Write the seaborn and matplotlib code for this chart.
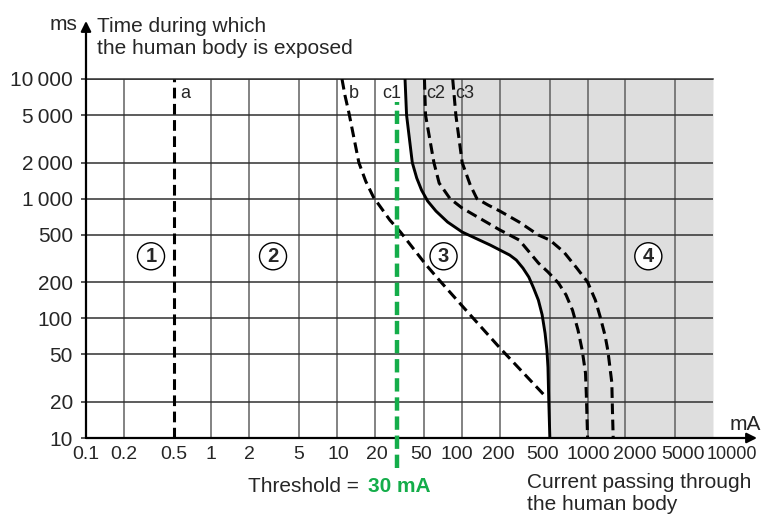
import numpy as np
import pandas as pd
import matplotlib
matplotlib.use("Agg")
import matplotlib.pyplot as plt
import matplotlib.transforms as mtransforms
import seaborn as sns

# axis ticks (mA, ms)
x_ticks = [0.1, 0.2, 0.5, 1, 2, 5, 10, 20, 50, 100, 200, 500, 1000, 2000, 5000, 10000]
x_tick_labels = ["0.1", "0.2", "0.5", "1", "2", "5", "10", "20", "50", "100", "200",
                 "500", "1000", "2000", "5000", "10000"]
y_ticks = [10, 20, 50, 100, 200, 500, 1000, 2000, 5000, 10000]
y_tick_labels = ["10", "20", "50", "100", "200", "500", "1\u2009000", "2\u2009000",
                 "5\u2009000", "10\u2009000"]
x_grid = [0.2, 1, 2, 5, 10, 20, 50, 100, 200, 500, 1000, 2000, 5000]
y_grid = [20, 50, 100, 200, 500, 1000, 2000, 5000, 10000]

# curves (current mA, time ms)
a_x = [0.5, 0.5]
a_y = [10, 10000]
b_x = [11, 11.6, 12.5, 15, 17, 19.6, 26.5, 32.2, 50.9, 65.5, 102, 200, 466]
b_y = [10000, 7350, 5200, 2000, 1400, 1030, 662, 526, 284, 209, 124, 56.5, 22]
c1_x = [35, 36, 40, 43.4, 47.4, 53, 61.8, 76.4, 100, 167, 200, 239, 270, 305, 340,
        371, 405, 434, 458, 474, 483, 490, 500]
c1_y = [10000, 5000, 2000, 1486, 1180, 955, 787, 638, 526, 410, 372, 338, 307, 263,
        221, 179, 142, 107, 75, 54, 39, 21, 10]
c2_x = [50, 51, 59.5, 65.5, 80, 100, 200, 285, 405, 483, 586, 673, 758, 838, 906,
        962, 977, 1000]
c2_y = [10000, 5000, 2000, 1350, 1000, 834, 547, 451, 290, 244, 197, 157, 117, 80,
        54, 35, 23, 10]
c3_x = [84, 89, 100, 116, 131, 161, 200, 285, 405, 500, 647, 820, 1000, 1153, 1260,
        1377, 1450, 1560, 1578, 1600]
c3_y = [10000, 5000, 2000, 1300, 1000, 884, 787, 637, 497, 451, 358, 263, 201, 142,
        103, 72, 54, 29, 17, 10]
threshold = 30
zone_labels = ["1", "2", "3", "4"]
zone_x = [0.33, 3.1, 71, 3050]
zone_y = [330, 330, 330, 330]

# horizontal nudge of crowded x tick labels, in pixels
x_label_shift = [0, 0, 0, 0, 0, 0, 2, 2, -3, -5, -2, -7, 1, 9, 8, 19]

sns.set_style("white")
plt.rcParams["font.family"] = ["Liberation Sans", "DejaVu Sans"]

fig = plt.figure(figsize=(7.61, 5.15), dpi=100)
ax = fig.add_axes([86 / 761, 1 - 438 / 515, 627 / 761, 359 / 515])
ax.set_xscale("log")
ax.set_yscale("log")
ax.set_xlim(0.1, 10000)
ax.set_ylim(10, 10000)

# shaded area right of c1
ax.fill_betweenx(c1_y, c1_x, 10000, color="#dedede", lw=0, zorder=0.5)

# grid
for gx in x_grid:
    ax.axvline(gx, color="#606060", lw=1.1, zorder=1.5)
for gy in y_grid:
    ax.axhline(gy, color="#303030", lw=1.1, zorder=1.5)

dash = (0, (3.5, 1.8))
curves = pd.concat([
    pd.DataFrame({"mA": a_x, "ms": a_y, "curve": "a"}),
    pd.DataFrame({"mA": b_x, "ms": b_y, "curve": "b"}),
    pd.DataFrame({"mA": c2_x, "ms": c2_y, "curve": "c2"}),
    pd.DataFrame({"mA": c3_x, "ms": c3_y, "curve": "c3"}),
])
for name, grp in curves.groupby("curve"):
    sns.lineplot(data=grp, x="mA", y="ms", sort=False, estimator=None, ax=ax,
                 color="black", lw=2.2, linestyle=dash, zorder=3)
sns.lineplot(x=c1_x, y=c1_y, sort=False, estimator=None, ax=ax,
             color="black", lw=2.1, zorder=3)
ax.set_xlabel("")
ax.set_ylabel("")

# threshold line
ax.plot([threshold, threshold], [5.6, 6400], color="#14ad4a", lw=3.2,
        linestyle=(0, (3.0, 1.3)), clip_on=False, zorder=4)

# curve labels
lab_y = 7500
ax.annotate("a", (a_x[0], lab_y), xytext=(5, 0), textcoords="offset points",
            ha="left", va="center", fontsize=13)
ax.annotate("b", (b_x[0], lab_y), xytext=(5, 0), textcoords="offset points",
            ha="left", va="center", fontsize=13)
ax.annotate("c1", (c1_x[0], lab_y), xytext=(-3, 0), textcoords="offset points",
            ha="right", va="center", fontsize=13)
ax.annotate("c2", (c2_x[0], lab_y), xytext=(1.5, 0), textcoords="offset points",
            ha="left", va="center", fontsize=13)
ax.annotate("c3", (c3_x[0], lab_y), xytext=(1.5, 0), textcoords="offset points",
            ha="left", va="center", fontsize=13)

for lab, zx, zy in zip(zone_labels, zone_x, zone_y):
    ax.text(zx, zy, lab, ha="center", va="center", fontsize=14.5, fontweight="bold",
            bbox=dict(boxstyle="circle,pad=0.2", fc="white", ec="black", lw=1), zorder=5)

# ticks
ax.set_xticks(x_ticks)
ax.set_xticklabels(x_tick_labels, fontsize=14)
ax.set_yticks(y_ticks)
ax.set_yticklabels(y_tick_labels, fontsize=15)
ax.xaxis.set_minor_locator(matplotlib.ticker.NullLocator())
ax.yaxis.set_minor_locator(matplotlib.ticker.NullLocator())
ax.tick_params(axis="x", length=0, pad=6)
ax.tick_params(axis="y", length=3.5, width=1.1, pad=6, left=True)
for lbl, dx in zip(ax.get_xticklabels(), x_label_shift):
    if dx:
        lbl.set_transform(lbl.get_transform()
                          + mtransforms.ScaledTranslation(dx / 100, 0, fig.dpi_scale_trans))
    if lbl.get_text() == "10000":
        lbl.set_fontsize(13)

for s in ["left", "bottom", "right"]:
    ax.spines[s].set_visible(False)
ax.spines["top"].set_linewidth(1.1)
ax.spines["top"].set_color("#303030")

# axis arrows
arrow = dict(arrowstyle="-|>,head_length=0.6,head_width=0.3", color="black", lw=1.6,
             shrinkA=0, shrinkB=0)
ax.annotate("", xy=(0, 1.1616), xytext=(0, 0), xycoords="axes fraction",
            textcoords="axes fraction", arrowprops=arrow, annotation_clip=False)
ax.annotate("", xy=(1.0702, 0), xytext=(0, 0), xycoords="axes fraction",
            textcoords="axes fraction", arrowprops=arrow, annotation_clip=False)

# axis titles
fig.text(77 / 761, 1 - 25 / 515, "ms", ha="right", va="center", fontsize=15)
fig.text(97 / 761, 1 - 38 / 515, "Time during which\nthe human body is exposed",
         ha="left", va="center", fontsize=15, linespacing=1.2)
fig.text(745 / 761, 1 - 424 / 515, "mA", ha="center", va="center", fontsize=15)
fig.text(527 / 761, 1 - 494 / 515, "Current passing through\nthe human body",
         ha="left", va="center", fontsize=15, linespacing=1.2)
fig.text(359 / 761, 1 - 487 / 515, "Threshold =", ha="right", va="center", fontsize=15)
fig.text(368 / 761, 1 - 487 / 515, "30 mA", ha="left", va="center", fontsize=15,
         fontweight="bold", color="#14ad4a")

fig.savefig("out.png", dpi=100)
